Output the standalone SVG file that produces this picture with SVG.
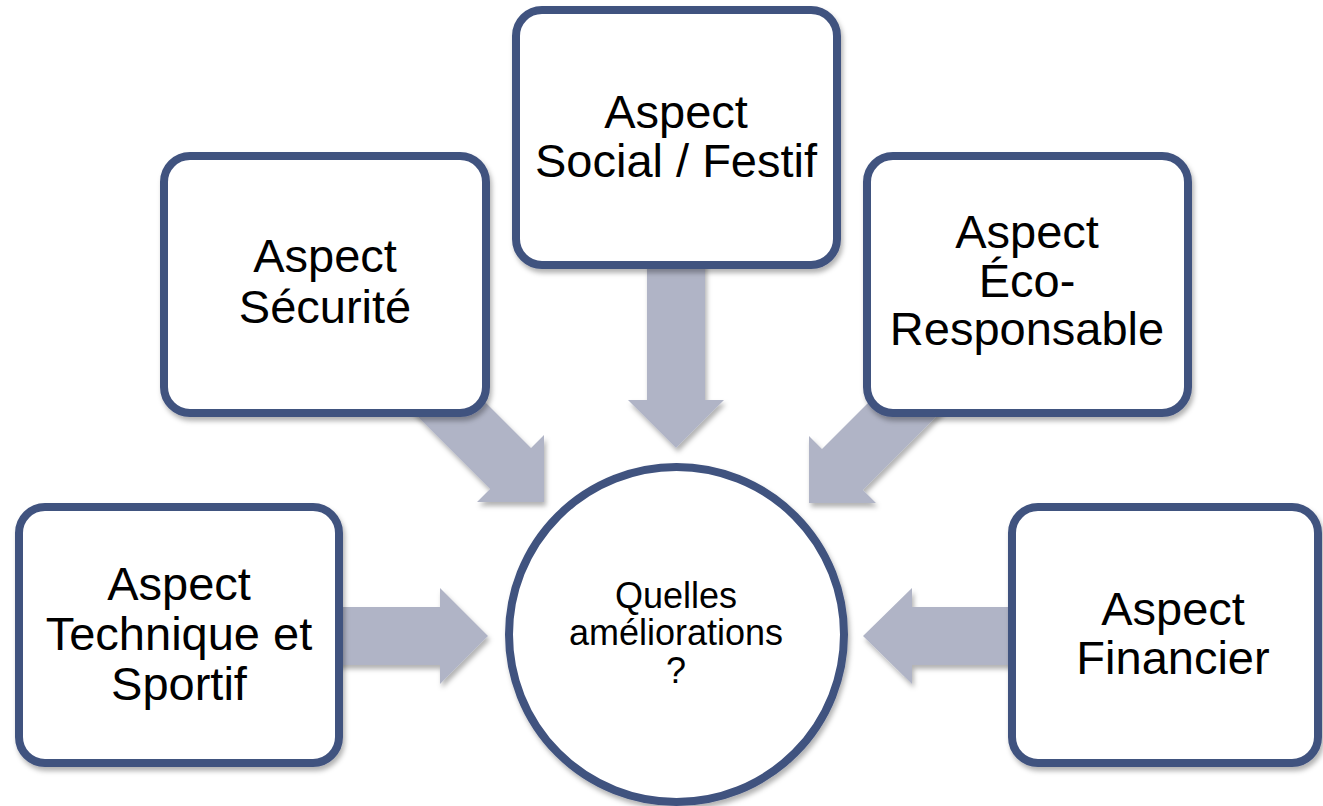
<svg xmlns="http://www.w3.org/2000/svg" width="1323" height="806" viewBox="0 0 1323 806">
<defs>
<filter id="sh" x="-20%" y="-20%" width="140%" height="140%">
<feDropShadow dx="2" dy="4" stdDeviation="2.5" flood-color="#000" flood-opacity="0.3"/>
</filter>
<style>
.box{fill:#fff;stroke:#40527F;stroke-width:8;filter:url(#sh)}
.arrow{fill:#B0B4C6;filter:url(#sh)}
.lbl{font-family:"Liberation Sans",Arial,sans-serif;font-size:47px;fill:#000;text-anchor:middle}
.clbl{font-family:"Liberation Sans",Arial,sans-serif;font-size:36px;fill:#000;text-anchor:middle}
</style>
</defs>
<rect width="1323" height="806" fill="#fff"/>
<g id="connectors">
<polygon class="arrow" points="330,607 440,607 440,588 488,636 440,684 440,665 330,665"/>
<polygon class="arrow" points="1020,607 912,607 912,588 863,636 912,684 912,665 1020,665"/>
<polygon class="arrow" points="647,255 705,255 705,400 724,400 676,448 628,400 647,400"/>
<polygon class="arrow" points="544,502 477,502 490,489 399.5,398.5 440.5,357.5 531,448 544,435"/>
<polygon class="arrow" points="809,503 876,503 863,490 953.5,399.5 912.5,358.5 822,449 809,436"/>
</g>
<g id="node-securite">
<rect class="box" x="164" y="156" width="322" height="257" rx="26"/>
<text class="lbl" x="325" y="272">Aspect</text>
<text class="lbl" x="325" y="323">Sécurité</text>
</g>
<g id="node-social">
<rect class="box" x="516" y="10" width="321" height="255" rx="26"/>
<text class="lbl" x="676" y="128">Aspect</text>
<text class="lbl" x="676" y="177">Social / Festif</text>
</g>
<g id="node-eco">
<rect class="box" x="867" y="156" width="321" height="257" rx="26"/>
<text class="lbl" x="1027" y="248">Aspect</text>
<text class="lbl" x="1027" y="297">Éco-</text>
<text class="lbl" x="1027" y="345">Responsable</text>
</g>
<g id="node-technique">
<rect class="box" x="19" y="507" width="320" height="256" rx="26"/>
<text class="lbl" x="179" y="600">Aspect</text>
<text class="lbl" x="179" y="650">Technique et</text>
<text class="lbl" x="179" y="700">Sportif</text>
</g>
<g id="node-financier">
<rect class="box" x="1012" y="507" width="306" height="256" rx="26"/>
<text class="lbl" x="1173" y="625">Aspect</text>
<text class="lbl" x="1173" y="674">Financier</text>
</g>
<g id="node-center">
<circle class="box" cx="676.5" cy="634.5" r="167.5"/>
<text class="clbl" x="676" y="608">Quelles</text>
<text class="clbl" x="676" y="645">améliorations</text>
<text class="clbl" x="676" y="683">?</text>
</g>
</svg>
